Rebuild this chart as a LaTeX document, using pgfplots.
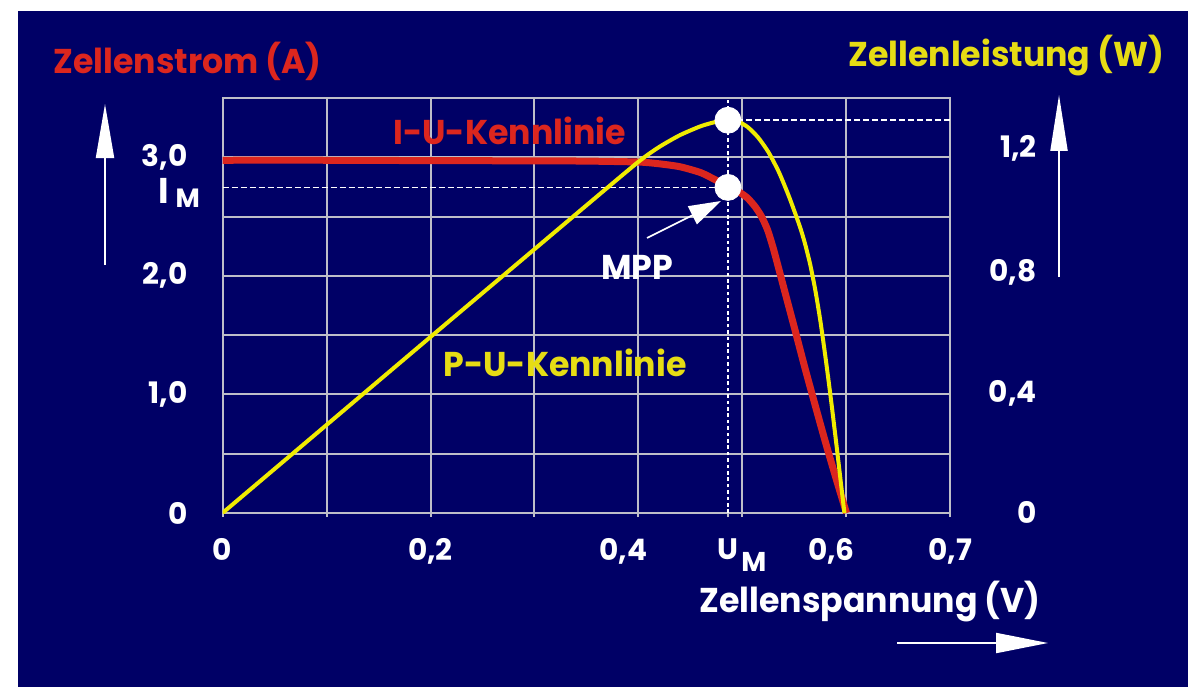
\documentclass[border=0pt]{standalone}
\usepackage{fontspec}
\setmainfont{Poppins}
\newfontfamily\tfam{Poppins}[FakeStretch=0.965]
\usepackage{pgfplots}
\pgfplotsset{compat=1.18}
\usetikzlibrary{arrows.meta}

\definecolor{navy}{RGB}{0,0,102}
\definecolor{gridc}{RGB}{190,190,200}
\definecolor{curvered}{RGB}{220,38,30}
\definecolor{curveyel}{RGB}{240,235,0}
\definecolor{txtyel}{RGB}{230,220,20}

\newcommand\tfont{\tfam\fontsize{17.2}{20}\selectfont\bfseries}
\newcommand\kfont{\fontsize{14.8}{17}\selectfont\bfseries}

\begin{document}
\begin{tikzpicture}
% page 1188x687 px, 1 px = 0.5 pt
\useasboundingbox (0,0) rectangle (594pt,343.5pt);
\fill[white] (0,0) rectangle (594pt,343.5pt);
\fill[navy] (9pt,0) rectangle (594pt,338pt);

% I-U curve, left axis
\begin{axis}[
    at={(111.25pt,87pt)}, anchor=south west,
    scale only axis, width=364pt, height=207.5pt,
    xmin=0, xmax=0.7, ymin=0, ymax=3.5,
    axis line style={draw=gridc, line width=1pt},
    grid=major, major grid style={draw=gridc, line width=1pt},
    xtick={0,0.1,0.2,0.3,0.4,0.5,0.6,0.7},
    xticklabels={0,{},{0,2},{},{\makebox[0pt]{0,4\hspace*{15pt}}},{},{\makebox[0pt]{0,6\hspace*{15pt}}},{0,7}},
    ytick={0,0.5,1,1.5,2,2.5,3,3.5},
    yticklabels={0,{},{1,0},{},{2,0},{},{3,0},{}},
    xtick pos=bottom, ytick pos=left,
    tick align=outside, major tick length=2pt,
    xtick style={draw=gridc, line width=1pt},
    ytick style={draw=none},
    tick label style={font=\kfont, text=white, inner sep=0pt},
    xticklabel style={anchor=north, yshift=-10.75pt},
    yticklabel style={anchor=east, xshift=-15.25pt},
    extra x ticks={0.486},
    extra x tick labels={U\rlap{\hspace{1.5pt}\raisebox{-5.7pt}{\fontsize{13.6}{15}\selectfont M}}},
    extra x tick style={grid=none, tick style={draw=none}},
    extra y ticks={2.746},
    extra y tick labels={{\fontsize{17.9}{20}\selectfont I\rlap{\hspace{3.5pt}\raisebox{-2.15pt}{\fontsize{13.2}{15}\selectfont M}}}},
    extra y tick style={grid=none, yticklabel style={xshift=-9.5pt, yshift=-2.75pt}},
]
\addplot[white, line width=0.75pt, dash pattern=on 1.8pt off 1.4pt] coordinates {(0.486,0) (0.486,3.5)};
\addplot[white, line width=0.75pt, dash pattern=on 3pt off 1.5pt] coordinates {(0,2.746) (0.486,2.746)};
\addplot[curvered, line width=3.5pt, line join=round, smooth, tension=0.4] coordinates {
    (0.000,2.975) (0.100,2.975) (0.200,2.972) (0.300,2.970) (0.350,2.968)
    (0.400,2.960) (0.420,2.945) (0.440,2.920) (0.460,2.870) (0.475,2.805)
    (0.486,2.756) (0.498,2.700) (0.505,2.655) (0.512,2.585) (0.518,2.505)
    (0.524,2.390) (0.530,2.220) (0.540,1.890) (0.550,1.560) (0.560,1.225)
    (0.570,0.905) (0.580,0.590) (0.590,0.290) (0.600,0.000)
};
\addplot[only marks, mark=*, mark size=6.5pt, mark options={fill=white, draw=white}] coordinates {(0.486,2.746)};
\end{axis}

% P-U curve, right axis
\begin{axis}[
    at={(111.25pt,87pt)}, anchor=south west,
    scale only axis, width=364pt, height=207.5pt,
    xmin=0, xmax=0.7, ymin=0, ymax=1.4,
    axis line style={draw=none},
    xtick=\empty,
    ytick={0,0.4,0.8,1.2},
    yticklabels={0,{\raisebox{1pt}{0,4}},{\raisebox{2.3pt}{0,8}},{\raisebox{5pt}{1,2}}},
    ytick pos=right, yticklabel pos=right,
    ytick style={draw=none},
    yticklabel style={font=\kfont, text=white, inner sep=0pt, anchor=base east, xshift=43.25pt, yshift=-5.15pt},
]
\addplot[white, line width=0.75pt, dash pattern=on 3pt off 1.5pt] coordinates {(0.486,1.325) (0.7,1.325)};
\addplot[curveyel, line width=2pt, line join=round, smooth, tension=0.4] coordinates {
    (0.000,0.000) (0.100,0.297) (0.200,0.594) (0.300,0.890) (0.350,1.038)
    (0.400,1.185) (0.420,1.235) (0.440,1.275) (0.460,1.305) (0.475,1.320)
    (0.486,1.325) (0.495,1.322) (0.505,1.302) (0.515,1.267) (0.525,1.217)
    (0.535,1.150) (0.545,1.065) (0.555,0.968) (0.560,0.910) (0.565,0.840)
    (0.570,0.752) (0.575,0.645) (0.580,0.520) (0.585,0.385) (0.590,0.240)
    (0.595,0.090) (0.598,0.000)
};
\addplot[only marks, mark=*, mark size=6.5pt, mark options={fill=white, draw=white}] coordinates {(0.486,1.325)};
\end{axis}

% labels and arrows in pixel coordinates
\begin{scope}[x=0.5pt, y=-0.5pt, shift={(0pt,343.5pt)}]
\node[anchor=base west, inner sep=0pt, text=curvered, font=\tfont] at (53,74) {Zellenstrom (A)};
\node[anchor=base west, inner sep=0pt, text=txtyel, font=\tfont] at (848,67) {Zellenleistung (W)};
\node[anchor=base west, inner sep=0pt, text=curvered, font=\tfont] at (393,145) {I-U-Kennlinie};
\node[anchor=base west, inner sep=0pt, text=txtyel, font=\tfont] at (443,376) {P-U-Kennlinie};
\node[anchor=base west, inner sep=0pt, text=white, font=\tfont] at (601,279) {MPP};
\node[anchor=base west, inner sep=0pt, text=white, font=\tfont] at (699,612) {Zellenspannung (V)};
\draw[white, line width=1pt, -{Triangle[length=27pt, width=9pt]}] (105,265) -- (105,104);
\draw[white, line width=1pt, -{Triangle[length=28pt, width=8.5pt]}] (1059,277) -- (1059,95);
\draw[white, line width=1pt, -{Triangle[length=26pt, width=10pt]}] (897,643) -- (1048,643);
\draw[white, line width=0.8pt, -{Triangle[length=16pt, width=10pt]}] (647,238) -- (721,201);
\end{scope}
\end{tikzpicture}
\end{document}
